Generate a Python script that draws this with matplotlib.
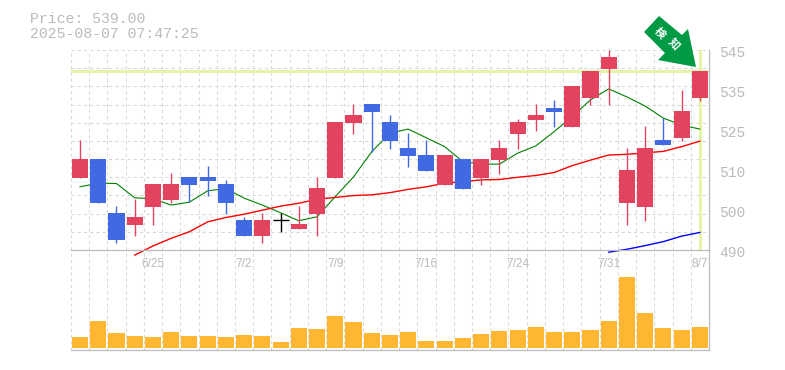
import matplotlib
matplotlib.use("Agg")
import matplotlib.pyplot as plt
from matplotlib.patches import Polygon
from matplotlib.transforms import Affine2D

W, H = 785, 370

# candles
opens = [509.7, 514.9, 500.1, 496.8, 501.8, 503.7, 510.0, 510.0, 508.1, 498.2, 493.8, 498.2,
         495.7, 499.9, 509.7, 524.8, 530.0, 525.0, 517.9, 516.0, 507.8, 514.9, 509.7, 514.6,
         521.7, 525.6, 528.9, 523.7, 531.6, 539.5, 502.9, 501.8, 520.1, 520.7, 531.6]
highs = [520.1, 514.9, 502.0, 504.0, 508.1, 511.1, 510.0, 513.0, 509.2, 499.0, 500.1, 500.1,
         502.0, 510.0, 525.0, 530.0, 530.0, 527.0, 522.0, 520.1, 516.0, 514.9, 514.9, 520.1,
         525.9, 530.0, 531.1, 534.9, 539.0, 544.7, 517.9, 523.9, 526.1, 533.8, 539.0]
lows = [509.7, 502.9, 491.9, 493.8, 496.8, 502.9, 503.1, 504.8, 499.9, 493.8, 491.9, 494.9,
        495.7, 493.8, 509.7, 521.7, 516.8, 517.6, 512.7, 511.6, 507.8, 506.7, 507.8, 510.8,
        517.6, 522.6, 523.7, 523.7, 529.7, 529.7, 496.8, 497.9, 518.7, 519.8, 530.8]
closes = [514.9, 502.9, 492.7, 499.0, 508.1, 508.1, 507.8, 508.9, 502.9, 493.8, 498.2, 498.2,
          497.1, 507.0, 525.0, 527.0, 527.8, 519.8, 515.7, 511.6, 516.0, 506.7, 514.9, 517.9,
          525.0, 527.0, 527.8, 534.9, 539.0, 542.8, 511.9, 517.9, 518.7, 528.0, 539.0]

ma_short = [507.3, 508.3, 508.2, 504.3, 504.0, 502.3, 503.1, 506.2, 506.8, 504.2, 502.3, 500.2,
            498.0, 499.1, 504.6, 510.0, 516.9, 522.0, 523.1, 520.7, 518.3, 514.2, 513.5, 513.5,
            516.5, 518.5, 522.4, 526.5, 531.1, 534.1, 531.9, 529.4, 526.1, 524.2, 523.1]
ma_mid = [488.6, 491.1, 493.2, 495.0, 497.7, 498.9, 499.8, 500.9, 502.0, 502.8, 503.9, 504.4,
          504.9, 505.1, 505.7, 506.6, 507.3, 508.3, 508.7, 509.2, 509.3, 509.9, 510.4, 511.2,
          513.1, 514.6, 516.0, 516.2, 516.6, 517.0, 518.3, 519.8]
ma_long = [489.4, 490.2, 491.2, 492.3, 493.8, 494.8]

volumes = [11, 27, 15, 12, 11, 16, 12, 12, 11, 13, 12, 6, 20, 19, 32, 26, 15, 13,
           16, 7, 7, 10, 14, 17, 18, 21, 16, 16, 18, 27, 71, 35, 20, 18, 21]

date_pos = [4, 9, 14, 19, 24, 29, 34]
date_labels = ["6/25", "7/2", "7/9", "7/16", "7/24", "7/31", "8/7"]
price_ticks = [543.9, 533.0, 522.0, 511.1, 500.1, 489.2]
price_labels = ["545", "535", "525", "510", "500", "490"]
last_price = 539.0

RED = "#e2435f"
BLUE = "#4169e1"
GREY = "#bbbbbb"
GRID = "#d8d8d8"
LIME = "#e4f5a8"
MONO = "Liberation Mono"
GRID_LW = 0.75
GRID_LS = (0, (3, 3))


def axes_px(left, top, right, bottom):
    return [left / W, 1 - bottom / H, (right - left) / W, (bottom - top) / H]


fig = plt.figure(figsize=(W / 100, H / 100), dpi=100)
vol = fig.add_axes(axes_px(70.9, 250, 709, 350))
ax = fig.add_axes(axes_px(70.9, 50, 709, 250))
n = len(closes)

for a in (ax, vol):
    a.patch.set_visible(False)
    a.set_xlim(-0.5, n - 0.5)
    a.set_xticks([i - 0.5 for i in range(n + 1)], minor=True)
    a.grid(True, which="minor", axis="x", color=GRID, lw=GRID_LW, ls=GRID_LS, zorder=0)
    a.tick_params(which="both", length=0)
    a.set_axisbelow(True)
    for s in a.spines.values():
        s.set_visible(False)
    for s in ("bottom", "right"):
        a.spines[s].set_visible(True)
        a.spines[s].set_color(GREY)
        a.spines[s].set_linewidth(0.9)

# price panel
ax.set_ylim(490, 544.75)
ax.set_yticks([490 + 54.75 * k / 11 for k in range(1, 12)])
ax.set_yticklabels([])
ax.grid(True, axis="y", color=GRID, lw=GRID_LW, ls=GRID_LS, zorder=0)

ax.axhline(last_price, color=LIME, lw=2.2, zorder=1)
ax.axvline(n - 1, ymin=0.005, ymax=0.995, color=LIME, lw=2.2, zorder=1)

ax.plot(range(n), ma_short, color="#008000", lw=0.8, zorder=2)
ax.plot(range(n - len(ma_mid), n), ma_mid, color="#ff0000", lw=1.0, zorder=2, clip_on=False)
ax.plot(range(n - len(ma_long), n), ma_long, color="#0000ff", lw=1.0, zorder=2, clip_on=False)

for i in range(n):
    o, h, l, c = opens[i], highs[i], lows[i], closes[i]
    if c == o:
        ax.vlines(i, l, h, color="black", lw=1, zorder=3, snap=True)
        ax.hlines(c, i - 0.44, i + 0.44, color="black", lw=1, zorder=3, snap=True)
        continue
    col = RED if c > o else BLUE
    ax.vlines(i, l, h, color=col, lw=1, zorder=3, snap=True)
    ax.bar(i, abs(c - o), bottom=min(o, c), width=0.88, color=col, zorder=4)

ax.set_xticks(date_pos)
ax.set_xticklabels(date_labels, family="Liberation Sans", fontsize=8.6, color=GREY)
ax.tick_params(axis="x", pad=5.5)

for p, lab in zip(price_ticks, price_labels):
    ax.annotate(lab, xy=(1, p), xycoords=("axes fraction", "data"), xytext=(7.5, 0),
                textcoords="offset points", va="center", ha="left", family=MONO,
                fontsize=10.5, color=GREY, annotation_clip=False)

# volume panel
vol.set_ylim(-2, 98)
vol.set_yticks([])
vol.set_xticks([])
vol.bar(range(n), volumes, width=0.88, color="#ffb733", zorder=3)

# grid lines at the edges should not lose half their width, and stay on whole pixels
for t in ax.xaxis.get_minor_ticks() + ax.yaxis.get_major_ticks() + vol.xaxis.get_minor_ticks():
    t.gridline.set_clip_on(False)
    t.gridline.set_snap(True)

# header text
fig.text(30 / W, 1 - 23 / H, "Price: 539.00", family=MONO, fontsize=10.75, color=GREY)
fig.text(30 / W, 1 - 38 / H, "2025-08-07 07:47:25", family=MONO, fontsize=10.75, color=GREY)

# signal arrow badge, drawn in figure pixels
arrow_px = [(659, 16), (644, 32), (665, 53), (658, 60), (696, 67), (688, 29), (682, 35)]
px_to_fig = Affine2D().scale(1 / W, -1 / H).translate(0, 1) + fig.transFigure
fig.add_artist(Polygon(arrow_px, closed=True, color="#009944", lw=0, transform=px_to_fig, zorder=5))
cjk = ["Noto Sans CJK JP", "DejaVu Sans"]
fig.text(660 / W, 1 - 33 / H, "検", family=cjk, fontsize=8, fontweight="bold", color="white",
         rotation=-47, ha="center", va="center", zorder=6)
fig.text(674 / W, 1 - 44 / H, "知", family=cjk, fontsize=8, fontweight="bold", color="white",
         rotation=-47, ha="center", va="center", zorder=6)

fig.savefig("out.png", dpi=100)
